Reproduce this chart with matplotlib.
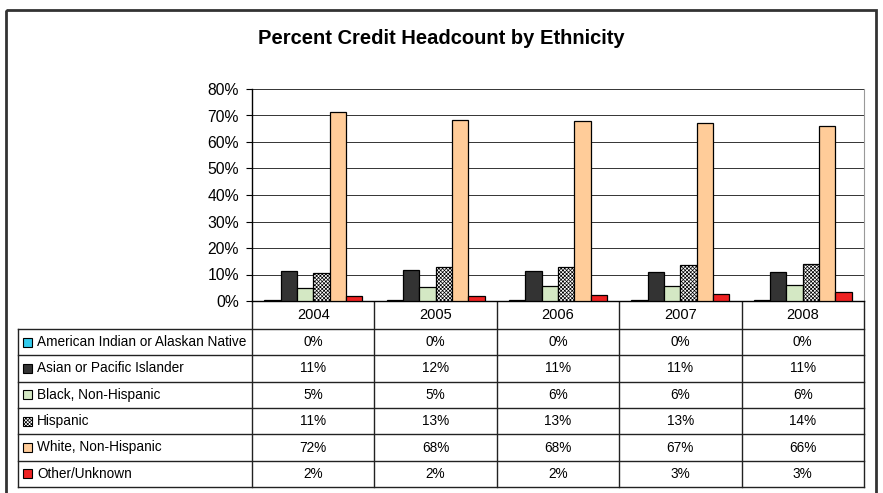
import matplotlib
matplotlib.use('Agg')
import matplotlib.pyplot as plt
from matplotlib.patches import Rectangle
from matplotlib.lines import Line2D

plt.rcParams['font.family'] = ['Liberation Sans', 'DejaVu Sans']
plt.rcParams['hatch.linewidth'] = 0.5

years = ['2004', '2005', '2006', '2007', '2008']
series = ['American Indian or Alaskan Native', 'Asian or Pacific Islander',
          'Black, Non-Hispanic', 'Hispanic', 'White, Non-Hispanic', 'Other/Unknown']
american_indian = [0.4, 0.4, 0.4, 0.4, 0.4]
asian = [11.3, 11.6, 11.2, 10.9, 10.8]
black = [5.0, 5.4, 5.6, 5.8, 5.9]
hispanic = [10.7, 12.8, 13.0, 13.4, 13.9]
white = [71.5, 68.3, 67.8, 67.0, 66.2]
other = [1.9, 2.0, 2.1, 2.7, 3.3]
values = [american_indian, asian, black, hispanic, white, other]
colors = ['#33CCEE', '#333333', '#D4E8C4', 'white', '#FFCC99', '#EE2222']
hatches = [None, None, None, 'xxxxxxxxx', None, None]
yticks = [0, 10, 20, 30, 40, 50, 60, 70, 80]

W, H = 883, 493
fig = plt.figure(figsize=(W / 100, H / 100), dpi=100)

# plot area (pixel layout)
px_left, px_right, px_top, px_bottom = 252, 864, 89, 301
ax = fig.add_axes([px_left / W, 1 - px_bottom / H,
                   (px_right - px_left) / W, (px_bottom - px_top) / H])

n = len(series)
w = 1 / (n + 1.5)
for j, (vals, c, h) in enumerate(zip(values, colors, hatches)):
    xs = [i + 0.75 * w + j * w for i in range(len(years))]
    ax.bar(xs, vals, width=w, align='edge', color=c, edgecolor='black',
           linewidth=0.9, hatch=h, zorder=3)

ax.set_xlim(0, len(years))
ax.set_ylim(0, 80)
ax.set_yticks(yticks)
ax.set_yticklabels([f'{t}%' for t in yticks], fontsize=11.3)
ax.set_xticks([])
ax.grid(axis='y', color='#333333', linewidth=0.7, zorder=0)
ax.tick_params(axis='y', length=4, width=0.8, pad=5.5)
ax.spines['top'].set_visible(False)
ax.spines['right'].set_color('#999999')
ax.spines['left'].set_linewidth(1.0)
ax.spines['bottom'].set_linewidth(1.0)

fig.text(0.5, 1 - 38 / H, 'Percent Credit Headcount by Ethnicity',
         ha='center', va='center', fontsize=14.5, fontweight='bold')

# data table drawn in pixel space
tx = fig.add_axes([0, 0, 1, 1], zorder=-1)
tx.set_xlim(0, W)
tx.set_ylim(H, 0)
tx.axis('off')

tab_left, head_bot, tab_bot = 18, 329, 487
row_h = (tab_bot - head_bot) / n
col_w = (px_right - px_left) / len(years)
lc = '#222222'
fs = 9.8

# vertical lines
for k in range(len(years) + 1):
    x = px_left + k * col_w
    tx.add_line(Line2D([x, x], [px_bottom, tab_bot], color=lc, lw=1.0))
tx.add_line(Line2D([tab_left, tab_left], [head_bot, tab_bot], color=lc, lw=1.0))
# horizontal lines
for r in range(n + 1):
    y = head_bot + r * row_h
    tx.add_line(Line2D([tab_left, px_right], [y, y], color=lc, lw=1.0))

for k, yr in enumerate(years):
    tx.text(px_left + (k + 0.5) * col_w, (px_bottom + head_bot) / 2, yr,
            ha='center', va='center', fontsize=10.5)

for r, (name, vals, c, h) in enumerate(zip(series, values, colors, hatches)):
    yc = head_bot + (r + 0.5) * row_h
    tx.add_patch(Rectangle((23, yc - 4.5), 9, 9, facecolor=c, edgecolor='black',
                           lw=0.8, hatch=h))
    tx.text(37, yc, name, ha='left', va='center', fontsize=fs)
    for k, v in enumerate(vals):
        tx.text(px_left + (k + 0.5) * col_w, yc, f'{round(v)}%',
                ha='center', va='center', fontsize=fs)

# outer chart border
tx.add_patch(Rectangle((6, 10), 870, 490, fill=False, edgecolor='#333333', lw=2))

fig.savefig('out.png', dpi=100)
